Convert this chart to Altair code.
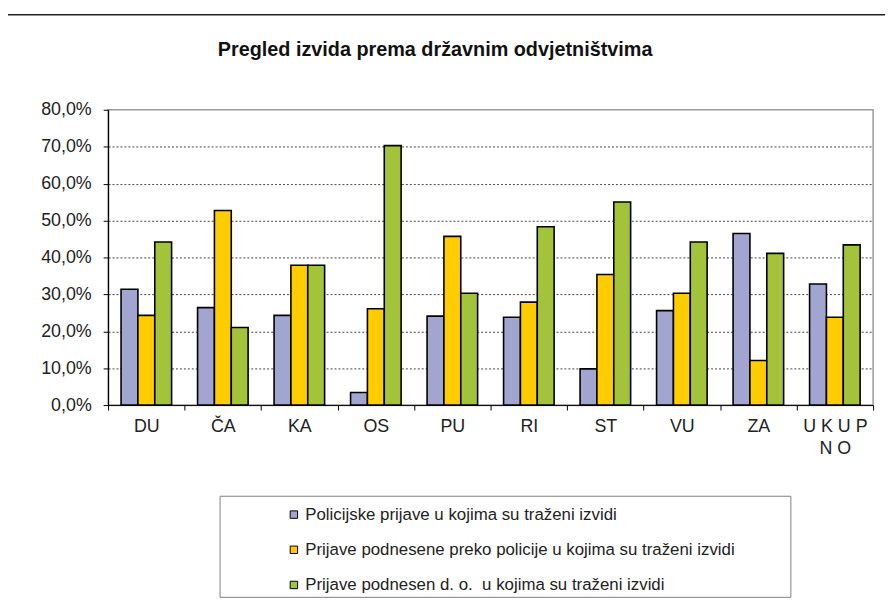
import altair as alt
import pandas as pd

categories = ["DU", "ČA", "KA", "OS", "PU", "RI", "ST", "VU", "ZA", "UKUPNO"]
series_names = [
    "Policijske prijave u kojima su traženi izvidi",
    "Prijave podnesene preko policije u kojima su traženi izvidi",
    "Prijave podnesen d. o.\u00a0 u kojima su traženi izvidi",
]
s_policijske = [31.4, 26.4, 24.3, 3.4, 24.1, 23.8, 9.8, 25.6, 46.5, 32.8]
s_preko_policije = [24.3, 52.7, 37.9, 26.1, 45.7, 27.9, 35.4, 30.3, 12.1, 23.8]
s_do = [44.2, 21.0, 37.9, 70.3, 30.3, 48.3, 55.0, 44.2, 41.1, 43.4]
colors = ["#A2A5CF", "#FFCC00", "#A3C33B"]
y_ticks = [0, 10, 20, 30, 40, 50, 60, 70, 80]

rows = []
for name, vals in zip(series_names, [s_policijske, s_preko_policije, s_do]):
    for c, v in zip(categories, vals):
        rows.append({"cat": c, "series": name, "value": v})
df = pd.DataFrame(rows)

FONT = "Liberation Sans"

bars = alt.Chart(df).mark_bar(stroke="black", strokeWidth=1.6).encode(
    x=alt.X(
        "cat:N",
        sort=categories,
        scale=alt.Scale(paddingInner=0, paddingOuter=0),
        axis=alt.Axis(
            title=None,
            labelAngle=0,
            labelFont=FONT,
            labelFontSize=18,
            labelColor="#222",
            labelPadding=8,
            labelLineHeight=22,
            labelExpr="datum.value == 'UKUPNO' ? ['U K U P', 'N O'] : datum.value",
            tickBand="extent",
            tickSize=5,
            tickColor="black",
            domainColor="black",
            domainWidth=1,
            grid=False,
        ),
    ),
    xOffset=alt.XOffset(
        "series:N",
        sort=series_names,
        scale=alt.Scale(paddingInner=0, paddingOuter=0.77),
    ),
    y=alt.Y(
        "value:Q",
        scale=alt.Scale(domain=[0, 80], nice=False),
        axis=alt.Axis(
            title=None,
            values=y_ticks,
            labelExpr="replace(format(datum.value, '.1f'), '.', ',') + '%'",
            labelFont=FONT,
            labelFontSize=18,
            labelColor="#222",
            labelPadding=12,
            tickSize=5,
            tickColor="black",
            domainColor="black",
            domainWidth=1.2,
            grid=True,
            gridColor="#444",
            gridDash=[2, 2],
            gridWidth=1,
            gridOpacity=alt.condition(
                "datum.value == 0 || datum.value == 80", alt.value(0), alt.value(1)
            ),
        ),
    ),
    color=alt.Color(
        "series:N",
        sort=series_names,
        scale=alt.Scale(domain=series_names, range=colors),
        legend=alt.Legend(
            title=None,
            orient="none",
            legendX=179,
            legendY=400,
            direction="vertical",
            symbolType="square",
            symbolSize=56,
            symbolStrokeColor="black",
            symbolStrokeWidth=1,
            labelFont=FONT,
            labelFontSize=17,
            labelColor="#222",
            labelLimit=800,
            labelOffset=3,
            rowPadding=17.5,
            padding=0,
        ),
    ),
)

box_df = pd.DataFrame({"a": [0]})
legend_box = alt.Chart(box_df).mark_rect(
    filled=False, stroke="#808080", strokeWidth=1
).encode(
    x=alt.value(113), x2=alt.value(689), y=alt.value(390), y2=alt.value(492)
)
top_rule = alt.Chart(box_df).mark_rule(color="#222", strokeWidth=1.5).encode(
    x=alt.value(-102), x2=alt.value(800), y=alt.value(-96)
)

chart = (
    alt.layer(legend_box, bars, top_rule)
    .properties(
        width=772,
        height=298,
        autosize=alt.AutoSizeParams(type="none"),
        padding={"left": 101, "top": 100, "right": 12, "bottom": 197},
        title=alt.TitleParams(
            "Pregled izvida prema državnim odvjetništvima",
            font=FONT,
            fontSize=20,
            fontWeight="bold",
            color="#111",
            anchor="middle",
            dx=-56,
            dy=46,
            offset=0,
        ),
    )
    .configure_view(stroke="#999", strokeWidth=1.5)
)

chart.save("out.html", embed_options={"renderer": "svg", "actions": False})
